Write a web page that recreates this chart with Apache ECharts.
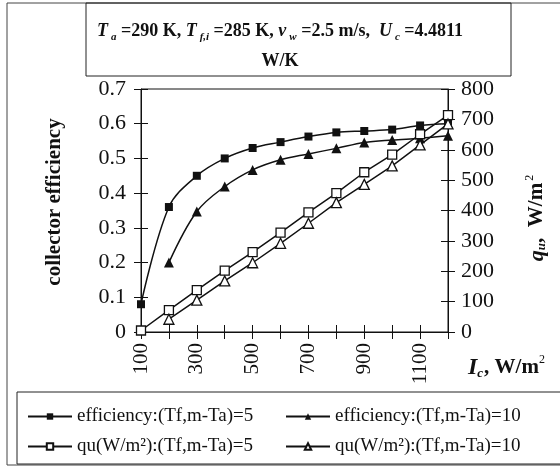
<!DOCTYPE html>
<html>
<head>
<meta charset="utf-8">
<script src="https://cdn.jsdelivr.net/npm/echarts@6/dist/echarts.min.js"></script>
<style>
    html, body { margin: 0; padding: 0; background: #fff; }
    #chart { width: 560px; height: 467px; }
</style>
</head>
<body>
<div id="chart"></div>
<script>
    // 数据
    let categories = ['100', '200', '300', '400', '500', '600', '700', '800', '900', '1000', '1100', '1200']
    let effDT5 = [0.08, 0.36, 0.45, 0.50, 0.53, 0.547, 0.563, 0.575, 0.579, 0.583, 0.595, 0.60]
    let effDT10 = [null, 0.20, 0.347, 0.419, 0.467, 0.496, 0.513, 0.529, 0.546, 0.553, 0.558, 0.565]
    let quDT5 = [5, 72, 138, 202, 263, 327, 394, 457, 526, 584, 651, 714]
    let quDT10 = [null, 42, 105, 168, 228, 292, 358, 426, 486, 547, 616, 685]
    let seriesNames = [
        'efficiency:(Tf,m-Ta)=5',
        'efficiency:(Tf,m-Ta)=10',
        'qu(W/m²):(Tf,m-Ta)=5',
        'qu(W/m²):(Tf,m-Ta)=10'
    ]

    let serif = 'Liberation Serif'
    let black = '#111'

    let myChart = echarts.init(document.getElementById('chart'))

    // 坐标轴公共样式
    function yAxisBase(position, min, max, interval, inside) {
        return {
            type: 'value',
            position: position,
            min: min,
            max: max,
            interval: interval,
            splitLine: { show: false },
            axisLine: { show: !inside, lineStyle: { color: black, width: 1 } },
            axisTick: { show: true, inside: inside, length: 7, lineStyle: { color: black } },
            axisLabel: {
                show: !inside,
                color: black,
                fontFamily: serif,
                fontSize: 22,
                margin: position === 'left' ? 15 : 13
            }
        }
    }

    function legendAt(name, left, top) {
        return {
            data: [name],
            left: left,
            top: top,
            itemWidth: 44,
            itemHeight: 8,
            itemGap: 6,
            textStyle: { fontFamily: serif, fontSize: 19, color: black }
        }
    }

    let option = {
        animation: false,
        backgroundColor: '#fff',
        title: {
            left: 'center',
            top: 11,
            text: '{it|T}{sub|a}{n| =290 K, }{it|T}{sub|f,i}{n| =285 K, }{it|v}{sub|w}{n| =2.5 m/s,  }{it|U}{sub|c}{n| =4.4811}\n{n|W/K}',
            textStyle: {
                fontFamily: serif,
                fontWeight: 'bold',
                fontSize: 18,
                color: black,
                rich: {
                    n: { fontFamily: serif, fontWeight: 'bold', fontSize: 18, lineHeight: 30, color: black },
                    it: { fontFamily: serif, fontWeight: 'bold', fontStyle: 'italic', fontSize: 18, lineHeight: 30, color: black },
                    sub: {
                        fontFamily: serif, fontWeight: 'bold', fontStyle: 'italic', fontSize: 11,
                        lineHeight: 12, verticalAlign: 'bottom', padding: [0, 0, 3, 3], color: black
                    }
                }
            }
        },
        legend: [
            legendAt(seriesNames[0], 22, 402),
            legendAt(seriesNames[1], 280, 402),
            legendAt(seriesNames[2], 22, 432),
            legendAt(seriesNames[3], 280, 432)
        ],
        grid: {
            left: 141,
            right: 112,
            top: 89,
            bottom: 135,
            show: true,
            borderColor: black,
            borderWidth: 1,
            backgroundColor: 'transparent'
        },
        xAxis: [{
            type: 'category',
            data: categories,
            boundaryGap: false,
            axisLine: { lineStyle: { color: black, width: 1 } },
            axisTick: { show: true, interval: 0, length: 7, lineStyle: { color: black } },
            axisLabel: {
                interval: 1,
                rotate: 90,
                color: black,
                fontFamily: serif,
                fontSize: 21,
                margin: 11
            },
            splitLine: { show: false }
        }, {
            type: 'category',
            data: categories,
            position: 'bottom',
            boundaryGap: false,
            axisLine: { show: false },
            axisTick: { show: true, inside: true, interval: 0, length: 7, lineStyle: { color: black } },
            axisLabel: { show: false },
            splitLine: { show: false }
        }],
        yAxis: [
            yAxisBase('left', 0, 0.7, 0.1, false),
            yAxisBase('right', 0, 800, 100, false),
            yAxisBase('left', 0, 0.7, 0.1, true),
            yAxisBase('right', 0, 800, 100, true)
        ],
        series: [{
            name: seriesNames[0],
            type: 'line',
            yAxisIndex: 0,
            data: effDT5,
            smooth: 0.35,
            symbol: 'rect',
            symbolSize: 8,
            itemStyle: { color: black },
            lineStyle: { color: black, width: 1.5 }
        }, {
            name: seriesNames[1],
            type: 'line',
            yAxisIndex: 0,
            data: effDT10,
            smooth: 0.35,
            symbol: 'triangle',
            symbolSize: 10,
            itemStyle: { color: black },
            lineStyle: { color: black, width: 1.5 }
        }, {
            name: seriesNames[2],
            type: 'line',
            yAxisIndex: 1,
            data: quDT5,
            symbol: 'rect',
            symbolSize: 9,
            itemStyle: { color: '#fff', borderColor: black, borderWidth: 1.3 },
            lineStyle: { color: black, width: 1.5 }
        }, {
            name: seriesNames[3],
            type: 'line',
            yAxisIndex: 1,
            data: quDT10,
            symbol: 'triangle',
            symbolSize: 10,
            itemStyle: { color: '#fff', borderColor: black, borderWidth: 1.3 },
            lineStyle: { color: black, width: 1.5 }
        }],
        graphic: [
            // 外框
            { type: 'rect', shape: { x: 7, y: 3, width: 560, height: 462 }, style: { fill: 'none', stroke: '#444', lineWidth: 1 }, silent: true },
            // 标题框
            { type: 'rect', shape: { x: 86, y: 3, width: 425, height: 73 }, style: { fill: 'none', stroke: '#222', lineWidth: 1 }, silent: true },
            // 图例框
            { type: 'rect', shape: { x: 17, y: 392, width: 560, height: 72 }, style: { fill: 'none', stroke: '#222', lineWidth: 1 }, silent: true },
            // 左轴名
            {
                type: 'text', x: 55, y: 202, rotation: Math.PI / 2,
                style: {
                    text: 'collector efficiency', align: 'center', verticalAlign: 'middle',
                    font: 'bold 21px "Liberation Serif"', fill: black
                }
            },
            // 右轴名
            {
                type: 'text', x: 537, y: 218, rotation: Math.PI / 2,
                style: {
                    text: '{qi|q}{su|u}{n|,  W/m}{sp|2}', align: 'center', verticalAlign: 'middle',
                    font: 'bold 20px "Liberation Serif"', fill: black,
                    rich: {
                        qi: { fontFamily: serif, fontWeight: 'bold', fontStyle: 'italic', fontSize: 22, lineHeight: 26 },
                        su: { fontFamily: serif, fontWeight: 'bold', fontStyle: 'italic', fontSize: 13, lineHeight: 14, verticalAlign: 'bottom', padding: [0, 0, 2, 0] },
                        n: { fontFamily: serif, fontWeight: 'bold', fontSize: 21, lineHeight: 26 },
                        sp: { fontFamily: serif, fontSize: 12, lineHeight: 14, verticalAlign: 'top', padding: [0, 0, 0, 2] }
                    }
                }
            },
            // x轴名
            {
                type: 'text', x: 468, y: 368,
                style: {
                    text: '{ii|I}{su|c}{n|, W/m}{sp|2}', align: 'left', verticalAlign: 'middle',
                    font: 'bold 20px "Liberation Serif"', fill: black,
                    rich: {
                        ii: { fontFamily: serif, fontWeight: 'bold', fontStyle: 'italic', fontSize: 24, lineHeight: 28 },
                        su: { fontFamily: serif, fontWeight: 'bold', fontStyle: 'italic', fontSize: 13, lineHeight: 14, verticalAlign: 'bottom', padding: [0, 1, 2, 0] },
                        n: { fontFamily: serif, fontWeight: 'bold', fontSize: 21, lineHeight: 28 },
                        sp: { fontFamily: serif, fontSize: 12, lineHeight: 14, verticalAlign: 'top' }
                    }
                }
            }
        ]
    }

    myChart.setOption(option)
</script>
</body>
</html>
